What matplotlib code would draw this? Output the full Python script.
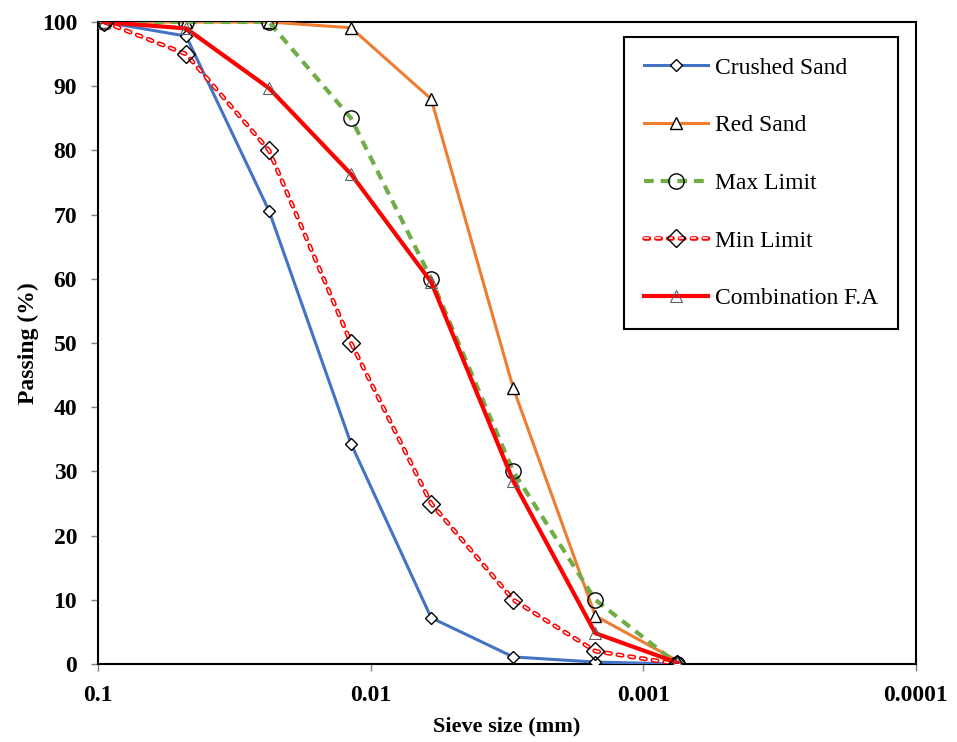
import matplotlib
matplotlib.use("Agg")
import matplotlib.pyplot as plt
from matplotlib.ticker import FixedLocator, FixedFormatter, NullLocator
from matplotlib.lines import Line2D
from matplotlib.legend_handler import HandlerTuple

plt.rcParams['font.family'] = ['Liberation Serif', 'DejaVu Serif']
plt.rcParams['lines.scale_dashes'] = False

sieve = [0.095, 0.0475, 0.0236, 0.0118, 0.006, 0.003, 0.0015, 0.00075]
crushed = [100, 97.8, 70.6, 34.3, 7.2, 1.1, 0.3, 0.0]
red_sand = [100, 100, 100, 99.1, 88.0, 43.0, 7.5, 0.5]
max_lim = [100, 100, 100, 85, 60, 30, 10, 0]
min_lim = [100, 95, 80, 50, 25, 10, 2, 0]
combo = [100, 99.0, 89.7, 76.3, 59.5, 28.5, 4.8, 0.2]
xticks = [0.1, 0.01, 0.001, 0.0001]
xticklabels = ["0.1", "0.01", "0.001", "0.0001"]

fig = plt.figure(figsize=(9.57, 7.42), dpi=100)
ax = fig.add_axes([98/957, 1-664/742, (916-98)/957, (664-22)/742])
ax.set_xscale('log')
ax.set_xlim(0.1, 0.0001)
ax.set_ylim(0, 100)

MIN_OUT = dict(color='red', lw=3.3, ls=(0, (3.2, 5.3)), dash_capstyle='round')
MIN_IN = dict(color='white', lw=1.1, ls=(0, (3.2, 5.3)), dash_capstyle='round')

l1, = ax.plot(sieve, crushed, color='#4472C4', lw=2.2, marker='D', ms=6.5,
              mfc='white', mec='black', mew=1.0, zorder=3)
l2, = ax.plot(sieve, red_sand, color='#ED7D31', lw=2.2, marker='^', ms=9,
              mfc='white', mec='black', mew=1.0, zorder=3)
l3, = ax.plot(sieve, max_lim, color='#70AD47', lw=3, ls=(0, (7, 5)), marker='o', ms=11,
              mfc='none', mec='black', mew=1.0, zorder=4)
l4a, = ax.plot(sieve, min_lim, zorder=3, **MIN_OUT)
l4b, = ax.plot(sieve, min_lim, zorder=3, **MIN_IN)
l4m, = ax.plot(sieve, min_lim, ls='none', marker='D', ms=9, mfc='none', mec='black',
               mew=1.0, zorder=5)
l5, = ax.plot(sieve, combo, color='red', lw=3, marker='^', ms=9,
              mfc='none', mec='#606060', mew=0.8, zorder=4)

ax.xaxis.set_major_locator(FixedLocator(xticks))
ax.xaxis.set_major_formatter(FixedFormatter(xticklabels))
ax.xaxis.set_minor_locator(NullLocator())
ax.set_yticks(range(0, 101, 10))
ax.tick_params(direction='out', length=5, width=1, labelsize=17, color='#808080')
ax.tick_params(axis='y', pad=10)
ax.tick_params(axis='x', pad=10)
for lab in ax.get_xticklabels() + ax.get_yticklabels():
    lab.set_fontweight('bold')
for sp in ax.spines.values():
    sp.set_linewidth(1.5)
    sp.set_color('black')
ax.set_xlabel('Sieve size (mm)', fontsize=16, fontweight='bold', labelpad=8)
ax.set_ylabel('Passing (%)', fontsize=17, fontweight='bold', labelpad=2)

h4 = (Line2D([], [], **MIN_OUT),
      Line2D([], [], **MIN_IN),
      Line2D([], [], ls='none', marker='D', ms=9, mfc='none', mec='black', mew=1.0))
leg = ax.legend([l1, l2, l3, h4, l5],
                ['Crushed Sand', 'Red Sand', 'Max Limit', 'Min Limit', 'Combination F.A'],
                handler_map={tuple: HandlerTuple(ndivide=1, pad=0)},
                loc='upper right', bbox_to_anchor=(1 - 18/818, 1 - 15/642), fontsize=17,
                frameon=True, fancybox=False, edgecolor='black', framealpha=1,
                labelspacing=1.53, handlelength=2.7, borderpad=0.85, handletextpad=0.3,
                borderaxespad=0)
leg.get_frame().set_linewidth(1.5)

fig.savefig('out.png', dpi=100)
